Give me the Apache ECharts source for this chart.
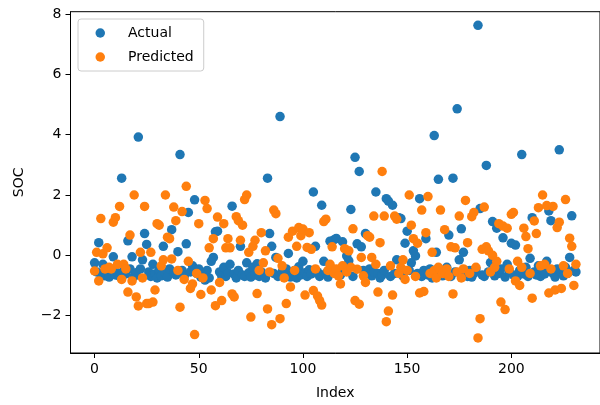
<!DOCTYPE html>
<html>
<head>
<meta charset="utf-8">
<script src="https://cdn.jsdelivr.net/npm/echarts@6/dist/echarts.min.js"></script>
<style>
html,body{margin:0;padding:0;background:#fff;}
#chart{width:600px;height:405px;}
</style>
</head>
<body>
<div id="chart"></div>
<script>
const seriesNames = ["Actual", "Predicted"];
const xTicks = [0, 50, 100, 150, 200];
const yTicks = [-2, 0, 2, 4, 6, 8];
const xLabel = "Index";
const yLabel = "SOC";

const actual = [
-0.25,-0.55,0.42,-0.62,-0.3,-0.68,-0.5,-0.72,-0.48,-0.05,
-0.65,-0.58,-0.7,2.56,-0.52,-0.62,0.48,-0.45,-0.05,-0.7,
-0.58,3.92,-0.45,-0.15,0.72,0.36,-0.55,-0.7,-0.3,-0.62,
-0.75,-0.5,-0.68,0.3,-0.6,-0.72,-0.45,0.85,-0.58,-0.65,
0.12,3.34,-0.5,-0.7,0.38,1.42,-0.55,-0.35,1.84,-0.6,
-0.45,-0.72,-0.65,-0.82,-0.5,-0.75,-0.2,-0.07,0.78,0.8,
-0.55,-0.68,-0.4,-0.7,-0.58,-0.3,1.63,-0.62,-0.75,-0.5,
0.3,-0.65,-0.7,-0.25,-0.58,-0.72,-0.4,-0.65,-0.28,-0.7,
-0.55,-0.62,-0.75,2.56,0.72,0.3,-0.6,-0.07,-0.7,4.6,
-0.55,-0.65,-0.45,0.06,-0.72,-0.6,-0.5,-0.75,-0.38,-0.65,
-0.2,-0.58,-0.7,-0.48,-0.62,2.1,0.3,-0.55,-0.7,1.66,
-0.2,-0.6,-0.72,0.47,-0.5,0.52,0.56,-0.55,-0.65,0.45,
-0.4,-0.02,-0.18,1.52,-0.7,3.25,0.38,2.78,0.28,-0.5,
0.72,-0.6,-0.45,-0.68,-0.55,2.1,-0.6,-0.75,-0.65,-0.5,
1.88,1.8,-0.7,1.66,-0.6,-0.15,1.25,1.22,-0.68,0.4,
0.8,-0.5,-0.25,0.15,-0.02,-0.6,1.88,-0.7,-0.5,0.55,
-0.65,-0.45,-0.75,3.97,0.1,2.52,-0.55,-0.68,-0.6,-0.4,
0.67,-0.7,2.56,-0.55,4.86,-0.15,0.88,0.1,-0.62,-0.7,
-0.5,-0.72,-0.6,-0.45,7.63,1.55,-0.65,-0.7,2.98,-0.55,
-0.24,1.12,-0.68,0.9,-0.6,-0.45,0.58,-0.72,-0.3,-0.55,
0.4,-0.65,0.34,-0.7,-0.5,3.34,-0.62,-0.4,-0.7,-0.1,
1.25,-0.55,-0.65,-0.35,-0.7,-0.5,-0.62,-0.2,1.47,1.15,
-0.6,-0.72,-0.45,3.5,-0.55,-0.68,-0.4,-0.6,-0.07,1.31,
-0.5,-0.55
];

const predicted = [
-0.52,0.1,-0.85,1.22,0.05,-0.45,0.25,-0.4,-0.45,1.1,
1.25,-0.3,1.62,-0.8,-0.3,-0.45,-1.22,0.67,-0.85,2.0,
-1.38,-1.68,0.1,-0.75,1.62,-1.6,-1.6,0.1,-1.55,-1.15,
1.05,1.0,-0.35,-0.15,2.0,0.6,0.55,-0.12,1.6,1.15,
-0.5,-1.72,1.45,-0.8,2.29,-0.2,-1.1,-0.95,-2.63,-0.6,
1.05,-1.3,-0.75,1.82,1.55,0.25,-1.15,0.55,-1.67,1.27,
-0.9,-1.5,1.05,0.25,0.55,0.25,-1.28,-1.38,1.28,1.15,
0.5,1.0,1.85,2.0,0.1,-2.05,0.3,0.5,-1.27,-0.5,
0.75,-0.25,0.15,-1.78,-0.55,-2.3,1.5,1.38,-0.1,-2.1,
-0.35,-0.75,-1.6,0.6,-1.05,0.8,-0.5,0.3,0.92,0.65,
0.87,-1.32,0.26,0.75,0.2,-1.17,-0.45,-1.35,-1.5,-1.65,
1.12,1.2,-0.5,-0.3,0.28,-0.6,-0.45,-0.68,-0.95,-0.35,
0.22,-0.55,0.15,-0.4,0.88,-1.5,-0.46,-1.62,-0.07,-0.68,
-0.9,0.65,0.6,-0.07,1.3,-0.3,-1.22,0.42,2.78,1.3,
-2.2,-1.85,-0.35,-1.32,1.3,1.2,-0.6,-0.4,-0.15,-0.8,
-0.5,2.0,1.0,0.55,-0.7,0.4,-1.25,1.5,-1.2,0.75,
1.95,-0.6,0.1,-0.5,-0.75,-0.4,1.5,-0.6,0.85,-0.45,
-0.7,0.28,-1.28,0.25,-0.55,1.3,-0.75,-0.45,1.82,0.42,
-0.6,1.28,1.42,-0.4,-2.74,-2.1,0.2,1.6,0.28,0.15,
-0.55,0.0,-0.4,-0.2,1.05,-1.55,0.97,-1.8,0.9,-0.45,
1.36,1.42,-0.85,-0.2,-1.0,-0.4,0.9,0.62,0.22,-0.6,
-1.42,1.14,0.72,1.58,-0.35,2.0,-0.3,1.65,-1.25,-0.45,
1.62,-1.15,0.92,1.1,-1.1,-0.35,1.85,-0.6,0.57,0.3,
-1.0,-0.3
];

const toPoints = arr => arr.map((v, i) => [i, v]);
const minusFmt = v => String(v).replace('-', '\u2212');
const FONT = 'DejaVu Sans';

const chart = echarts.init(document.getElementById('chart'), null, {renderer: 'canvas'});
chart.setOption({
  animation: false,
  backgroundColor: '#ffffff',
  textStyle: {fontFamily: FONT},
  grid: {
    left: 70.5, top: 11.7, width: 532, height: 342.6,
    show: true, borderColor: '#000', borderWidth: 1, backgroundColor: 'transparent'
  },
  legend: {
    orient: 'vertical',
    left: 78, top: 19,
    padding: [7, 10, 7, 17.5],
    itemGap: 10,
    itemWidth: 9.5, itemHeight: 9.5,
    icon: 'circle',
    backgroundColor: 'rgba(255,255,255,0.8)',
    borderColor: '#cccccc', borderWidth: 1, borderRadius: 3,
    textStyle: {fontFamily: FONT, fontSize: 14, color: '#000', padding: [0, 0, 0, 18]},
    data: seriesNames
  },
  xAxis: {
    type: 'value', min: -11.55, max: 242.55,
    name: xLabel, nameLocation: 'middle', nameGap: 33,
    nameTextStyle: {fontFamily: FONT, fontSize: 14, color: '#000'},
    axisLine: {show: true, onZero: false, lineStyle: {color: '#000', width: 1}},
    axisTick: {show: true, length: 5, customValues: xTicks, lineStyle: {color: '#000', width: 1}},
    axisLabel: {show: true, customValues: xTicks, margin: 9, fontFamily: FONT, fontSize: 14, color: '#000', formatter: minusFmt},
    splitLine: {show: false}
  },
  yAxis: {
    type: 'value', min: -3.24, max: 8.08,
    name: yLabel, nameLocation: 'middle', nameGap: 44, nameRotate: 90,
    nameTextStyle: {fontFamily: FONT, fontSize: 14, color: '#000'},
    axisLine: {show: true, onZero: false, lineStyle: {color: '#000', width: 1}},
    axisTick: {show: true, length: 5, customValues: yTicks, lineStyle: {color: '#000', width: 1}},
    axisLabel: {show: true, customValues: yTicks, margin: 9, fontFamily: FONT, fontSize: 14, color: '#000', formatter: minusFmt},
    splitLine: {show: false}
  },
  series: [
    {
      name: seriesNames[0], type: 'scatter', symbol: 'circle', symbolSize: 9.5,
      itemStyle: {color: '#1f77b4', opacity: 1},
      data: toPoints(actual), silent: true
    },
    {
      name: seriesNames[1], type: 'scatter', symbol: 'circle', symbolSize: 9.5,
      itemStyle: {color: '#ff7f0e', opacity: 1},
      data: toPoints(predicted), silent: true
    }
  ]
});
</script>
</body>
</html>
